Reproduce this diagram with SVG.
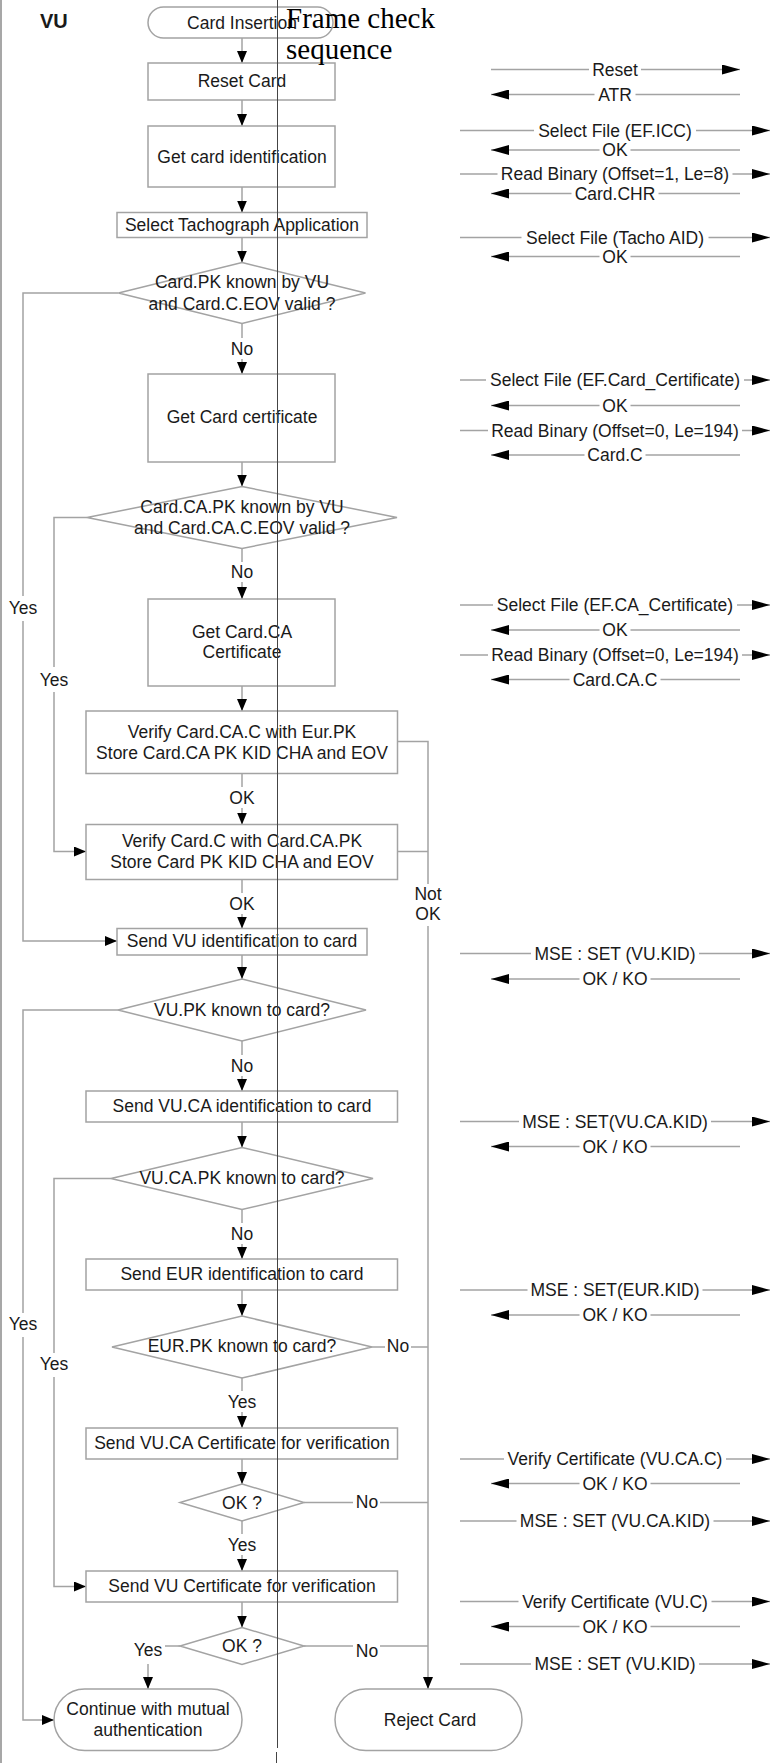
<svg xmlns="http://www.w3.org/2000/svg" width="774" height="1763" viewBox="0 0 774 1763">
<style>
.n{fill:#fff;stroke:#a3a3a3;stroke-width:1.5}
.c{fill:none;stroke:#a3a3a3;stroke-width:1.5}
.t{font-family:"Liberation Sans",Arial,sans-serif;font-size:17.5px;fill:#1a1a1a;text-anchor:middle}
.a{marker-end:url(#ah)}
.m{marker-end:url(#mh)}
</style>
<defs>
<marker id="ah" markerUnits="userSpaceOnUse" markerWidth="12" markerHeight="10" refX="12" refY="5" orient="auto"><path d="M0,0 L12,5 L0,10 z" fill="#000"/></marker>
<marker id="mh" markerUnits="userSpaceOnUse" markerWidth="18" markerHeight="10" refX="18" refY="5" orient="auto"><path d="M0,0 L18,5 L0,10 z" fill="#000"/></marker>
</defs>
<rect width="774" height="1763" fill="#fff"/>

<g id="frame">
<line x1="1" y1="0" x2="1" y2="1763" stroke="#8a8a8a" stroke-width="1.5"/>
<line x1="277.5" y1="0" x2="277.5" y2="1748" stroke="#444" stroke-width="1"/>
<line x1="276.5" y1="1752" x2="276.5" y2="1763" stroke="#444" stroke-width="1"/>
<text x="40" y="28" font-family="Liberation Sans,Arial,sans-serif" font-size="20" font-weight="bold" fill="#1a1a1a">VU</text>
</g>

<g id="connectors">
<!-- main column -->
<line class="c a" x1="242" y1="38" x2="242" y2="63"/>
<line class="c a" x1="242" y1="100" x2="242" y2="126"/>
<line class="c a" x1="242" y1="187" x2="242" y2="212.5"/>
<line class="c a" x1="242" y1="237.5" x2="242" y2="262.5"/>
<line class="c" x1="242" y1="323.5" x2="242" y2="338"/>
<line class="c a" x1="242" y1="359" x2="242" y2="374"/>
<line class="c a" x1="242" y1="462" x2="242" y2="486.5"/>
<line class="c" x1="242" y1="548.5" x2="242" y2="562"/>
<line class="c a" x1="242" y1="582" x2="242" y2="599"/>
<line class="c a" x1="242" y1="686" x2="242" y2="711"/>
<line class="c" x1="242" y1="773.5" x2="242" y2="787"/>
<line class="c a" x1="242" y1="808" x2="242" y2="824.5"/>
<line class="c" x1="242" y1="879.5" x2="242" y2="893"/>
<line class="c a" x1="242" y1="914" x2="242" y2="928.5"/>
<line class="c a" x1="242" y1="955" x2="242" y2="979"/>
<line class="c" x1="242" y1="1041" x2="242" y2="1055"/>
<line class="c a" x1="242" y1="1076" x2="242" y2="1091"/>
<line class="c a" x1="242" y1="1122" x2="242" y2="1147.5"/>
<line class="c" x1="242" y1="1209.5" x2="242" y2="1223"/>
<line class="c a" x1="242" y1="1244" x2="242" y2="1259"/>
<line class="c a" x1="242" y1="1290" x2="242" y2="1316"/>
<line class="c" x1="242" y1="1378" x2="242" y2="1391"/>
<line class="c a" x1="242" y1="1412" x2="242" y2="1428"/>
<line class="c a" x1="242" y1="1459" x2="242" y2="1484"/>
<line class="c" x1="242" y1="1521" x2="242" y2="1534"/>
<line class="c a" x1="242" y1="1555" x2="242" y2="1571"/>
<line class="c a" x1="242" y1="1602" x2="242" y2="1627.5"/>
<line class="c" x1="180" y1="1646" x2="165" y2="1646"/>
<line class="c a" x1="148" y1="1664" x2="148" y2="1689"/>
<!-- left Yes branches -->
<polyline class="c" points="118.5,293 23,293 23,596"/>
<polyline class="c a" points="23,621 23,941 117,941"/>
<polyline class="c" points="87,517.5 54,517.5 54,667"/>
<polyline class="c a" points="54,692 54,851.5 86,851.5"/>
<polyline class="c" points="118,1010 23,1010 23,1313"/>
<polyline class="c a" points="23,1337 23,1720 54,1720"/>
<polyline class="c" points="111,1178.5 54,1178.5 54,1353"/>
<polyline class="c a" points="54,1377 54,1586.5 86,1586.5"/>
<!-- right Not OK / No branches -->
<polyline class="c" points="397.5,741.5 428,741.5 428,884"/>
<line class="c" x1="397.5" y1="851.5" x2="428" y2="851.5"/>
<line class="c a" x1="428" y1="926" x2="428" y2="1689"/>
<line class="c" x1="372" y1="1347" x2="385" y2="1347"/>
<line class="c" x1="411" y1="1347" x2="428" y2="1347"/>
<line class="c" x1="304" y1="1502.5" x2="353" y2="1502.5"/>
<line class="c" x1="380" y1="1502.5" x2="428" y2="1502.5"/>
<line class="c" x1="304" y1="1646" x2="353" y2="1646"/>
<line class="c" x1="380" y1="1646" x2="428" y2="1646"/>

<!-- message arrows -->
<line class="c" x1="491" y1="69.5" x2="589" y2="69.5"/><line class="c m" x1="641" y1="69.5" x2="740" y2="69.5"/>
<line class="c" x1="740" y1="94.5" x2="635.5" y2="94.5"/><line class="c m" x1="594.5" y1="94.5" x2="491" y2="94.5"/>
<line class="c" x1="460" y1="130.5" x2="534" y2="130.5"/><line class="c m" x1="696" y1="130.5" x2="770" y2="130.5"/>
<line class="c" x1="740" y1="150" x2="630.5" y2="150"/><line class="c m" x1="599.5" y1="150" x2="491" y2="150"/>
<line class="c" x1="460" y1="174" x2="497.5" y2="174"/><line class="c m" x1="732.5" y1="174" x2="770" y2="174"/>
<line class="c" x1="740" y1="193.5" x2="658.5" y2="193.5"/><line class="c m" x1="571.5" y1="193.5" x2="491" y2="193.5"/>
<line class="c" x1="460" y1="237.5" x2="521.5" y2="237.5"/><line class="c m" x1="708.5" y1="237.5" x2="770" y2="237.5"/>
<line class="c" x1="740" y1="256.5" x2="630.5" y2="256.5"/><line class="c m" x1="599.5" y1="256.5" x2="491" y2="256.5"/>

<line class="c" x1="460" y1="380" x2="486" y2="380"/><line class="c m" x1="744" y1="380" x2="770" y2="380"/>
<line class="c" x1="740" y1="405.5" x2="630.5" y2="405.5"/><line class="c m" x1="599.5" y1="405.5" x2="491" y2="405.5"/>
<line class="c" x1="460" y1="430.5" x2="488" y2="430.5"/><line class="c m" x1="742" y1="430.5" x2="770" y2="430.5"/>
<line class="c" x1="740" y1="455" x2="645.5" y2="455"/><line class="c m" x1="584.5" y1="455" x2="491" y2="455"/>

<line class="c" x1="460" y1="605" x2="493" y2="605"/><line class="c m" x1="737" y1="605" x2="770" y2="605"/>
<line class="c" x1="740" y1="630" x2="630.5" y2="630"/><line class="c m" x1="599.5" y1="630" x2="491" y2="630"/>
<line class="c" x1="460" y1="655" x2="488" y2="655"/><line class="c m" x1="742" y1="655" x2="770" y2="655"/>
<line class="c" x1="740" y1="679.5" x2="660.5" y2="679.5"/><line class="c m" x1="569.5" y1="679.5" x2="491" y2="679.5"/>

<line class="c" x1="460" y1="953.5" x2="531" y2="953.5"/><line class="c m" x1="699" y1="953.5" x2="770" y2="953.5"/>
<line class="c" x1="740" y1="979" x2="650.5" y2="979"/><line class="c m" x1="579.5" y1="979" x2="491" y2="979"/>
<line class="c" x1="460" y1="1121.5" x2="519" y2="1121.5"/><line class="c m" x1="711" y1="1121.5" x2="770" y2="1121.5"/>
<line class="c" x1="740" y1="1146.5" x2="650.5" y2="1146.5"/><line class="c m" x1="579.5" y1="1146.5" x2="491" y2="1146.5"/>
<line class="c" x1="460" y1="1290" x2="527.5" y2="1290"/><line class="c m" x1="702.5" y1="1290" x2="770" y2="1290"/>
<line class="c" x1="740" y1="1315" x2="650.5" y2="1315"/><line class="c m" x1="579.5" y1="1315" x2="491" y2="1315"/>

<line class="c" x1="460" y1="1459" x2="504" y2="1459"/><line class="c m" x1="726" y1="1459" x2="770" y2="1459"/>
<line class="c" x1="740" y1="1483.5" x2="650.5" y2="1483.5"/><line class="c m" x1="579.5" y1="1483.5" x2="491" y2="1483.5"/>
<line class="c" x1="460" y1="1521" x2="516.5" y2="1521"/><line class="c m" x1="713.5" y1="1521" x2="770" y2="1521"/>
<line class="c" x1="460" y1="1601.5" x2="518.5" y2="1601.5"/><line class="c m" x1="711.5" y1="1601.5" x2="770" y2="1601.5"/>
<line class="c" x1="740" y1="1626.5" x2="650.5" y2="1626.5"/><line class="c m" x1="579.5" y1="1626.5" x2="491" y2="1626.5"/>
<line class="c" x1="460" y1="1664" x2="531" y2="1664"/><line class="c m" x1="699" y1="1664" x2="770" y2="1664"/>
</g>

<g id="connector-labels">
<text class="t" x="242" y="355">No</text>
<text class="t" x="242" y="578">No</text>
<text class="t" x="242" y="804">OK</text>
<text class="t" x="242" y="910">OK</text>
<text class="t" x="242" y="1072">No</text>
<text class="t" x="242" y="1240">No</text>
<text class="t" x="242" y="1408">Yes</text>
<text class="t" x="242" y="1551">Yes</text>
<text class="t" x="148" y="1656">Yes</text>
<text class="t" x="23" y="614">Yes</text>
<text class="t" x="54" y="686">Yes</text>
<text class="t" x="23" y="1330">Yes</text>
<text class="t" x="54" y="1370">Yes</text>
<text class="t" x="428" y="900">Not</text>
<text class="t" x="428" y="920">OK</text>
<text class="t" x="398" y="1352">No</text>
<text class="t" x="367" y="1508">No</text>
<text class="t" x="367" y="1657">No</text>
<!-- messages -->
<text class="t" x="615" y="75.5">Reset</text>
<text class="t" x="615" y="100.5">ATR</text>
<text class="t" x="615" y="136.5">Select File (EF.ICC)</text>
<text class="t" x="615" y="156">OK</text>
<text class="t" x="615" y="180">Read Binary (Offset=1, Le=8)</text>
<text class="t" x="615" y="199.5">Card.CHR</text>
<text class="t" x="615" y="243.5">Select File (Tacho AID)</text>
<text class="t" x="615" y="262.5">OK</text>
<text class="t" x="615" y="386">Select File (EF.Card_Certificate)</text>
<text class="t" x="615" y="411.5">OK</text>
<text class="t" x="615" y="436.5">Read Binary (Offset=0, Le=194)</text>
<text class="t" x="615" y="461">Card.C</text>
<text class="t" x="615" y="611">Select File (EF.CA_Certificate)</text>
<text class="t" x="615" y="636">OK</text>
<text class="t" x="615" y="661">Read Binary (Offset=0, Le=194)</text>
<text class="t" x="615" y="685.5">Card.CA.C</text>
<text class="t" x="615" y="959.5">MSE : SET (VU.KID)</text>
<text class="t" x="615" y="985">OK / KO</text>
<text class="t" x="615" y="1127.5">MSE : SET(VU.CA.KID)</text>
<text class="t" x="615" y="1152.5">OK / KO</text>
<text class="t" x="615" y="1296">MSE : SET(EUR.KID)</text>
<text class="t" x="615" y="1321">OK / KO</text>
<text class="t" x="615" y="1465">Verify Certificate (VU.CA.C)</text>
<text class="t" x="615" y="1489.5">OK / KO</text>
<text class="t" x="615" y="1527">MSE : SET (VU.CA.KID)</text>
<text class="t" x="615" y="1607.5">Verify Certificate (VU.C)</text>
<text class="t" x="615" y="1632.5">OK / KO</text>
<text class="t" x="615" y="1670">MSE : SET (VU.KID)</text>
</g>

<g id="card-insertion"><rect class="n" x="148" y="7" width="185" height="31" rx="15.5"/><text class="t" x="242" y="28.5">Card Insertion</text></g>
<g id="reset-card"><rect class="n" x="148" y="63" width="187" height="37"/><text class="t" x="242" y="87">Reset Card</text></g>
<g id="get-card-id"><rect class="n" x="148" y="126" width="187" height="61"/><text class="t" x="242" y="162.5">Get card identification</text></g>
<g id="select-tacho"><rect class="n" x="117" y="212.5" width="250" height="25"/><text class="t" x="242" y="231">Select Tachograph Application</text></g>
<g id="dec-card-pk"><polygon class="n" points="242,262.5 365.5,293 242,323.5 118.5,293"/><text class="t" x="242" y="287.5">Card.PK known by VU</text><text class="t" x="242" y="309.5">and Card.C.EOV valid ?</text></g>
<g id="get-card-cert"><rect class="n" x="148" y="374" width="187" height="88"/><text class="t" x="242" y="423">Get Card certificate</text></g>
<g id="dec-card-ca-pk"><polygon class="n" points="242,486.5 397,517.5 242,548.5 87,517.5"/><text class="t" x="242" y="512.5">Card.CA.PK known by VU</text><text class="t" x="242" y="534">and Card.CA.C.EOV valid ?</text></g>
<g id="get-card-ca-cert"><rect class="n" x="148" y="599" width="187" height="87"/><text class="t" x="242" y="638">Get Card.CA</text><text class="t" x="242" y="658">Certificate</text></g>
<g id="verify-card-ca"><rect class="n" x="86" y="711" width="311.5" height="62.5"/><text class="t" x="242" y="738">Verify Card.CA.C with Eur.PK</text><text class="t" x="242" y="759">Store Card.CA PK KID CHA and EOV</text></g>
<g id="verify-card-c"><rect class="n" x="86" y="824.5" width="311.5" height="55"/><text class="t" x="242" y="847">Verify Card.C with Card.CA.PK</text><text class="t" x="242" y="868">Store Card PK KID CHA and EOV</text></g>
<g id="send-vu-id"><rect class="n" x="117" y="928.5" width="250" height="26.5"/><text class="t" x="242" y="947">Send VU identification to card</text></g>
<g id="dec-vu-pk"><polygon class="n" points="242,979 366,1010 242,1041 118,1010"/><text class="t" x="242" y="1015.5">VU.PK known to card?</text></g>
<g id="send-vu-ca-id"><rect class="n" x="86" y="1091" width="311.5" height="31"/><text class="t" x="242" y="1112">Send VU.CA identification to card</text></g>
<g id="dec-vu-ca-pk"><polygon class="n" points="242,1147.5 373,1178.5 242,1209.5 111,1178.5"/><text class="t" x="242" y="1184">VU.CA.PK known to card?</text></g>
<g id="send-eur-id"><rect class="n" x="86" y="1259" width="311.5" height="31"/><text class="t" x="242" y="1280">Send EUR identification to card</text></g>
<g id="dec-eur-pk"><polygon class="n" points="242,1316 372,1347 242,1378 112,1347"/><text class="t" x="242" y="1352">EUR.PK known to card?</text></g>
<g id="send-vu-ca-cert"><rect class="n" x="86" y="1428" width="311.5" height="31"/><text class="t" x="242" y="1448.5">Send VU.CA Certificate for verification</text></g>
<g id="dec-ok-1"><polygon class="n" points="242,1484 304,1502.5 242,1521 180,1502.5"/><text class="t" x="242" y="1508.5">OK ?</text></g>
<g id="send-vu-cert"><rect class="n" x="86" y="1571" width="311.5" height="31"/><text class="t" x="242" y="1592">Send VU Certificate for verification</text></g>
<g id="dec-ok-2"><polygon class="n" points="242,1627.5 304,1646 242,1664.5 180,1646"/><text class="t" x="242" y="1652">OK ?</text></g>
<g id="continue"><rect class="n" x="54" y="1689" width="188" height="61.5" rx="30.75"/><text class="t" x="148" y="1715">Continue with mutual</text><text class="t" x="148" y="1735.5">authentication</text></g>
<g id="reject-card"><rect class="n" x="335" y="1689" width="187" height="61.5" rx="30.75"/><text class="t" x="430" y="1726">Reject Card</text></g>

<g id="overlay-title">
<line x1="277.5" y1="0" x2="277.5" y2="1748" stroke="#444" stroke-width="1"/>
<text x="286" y="28" font-family="Liberation Serif,Times New Roman,serif" font-size="29" fill="#000">Frame check</text>
<text x="286" y="59" font-family="Liberation Serif,Times New Roman,serif" font-size="29" fill="#000">sequence</text>
</g>
</svg>
